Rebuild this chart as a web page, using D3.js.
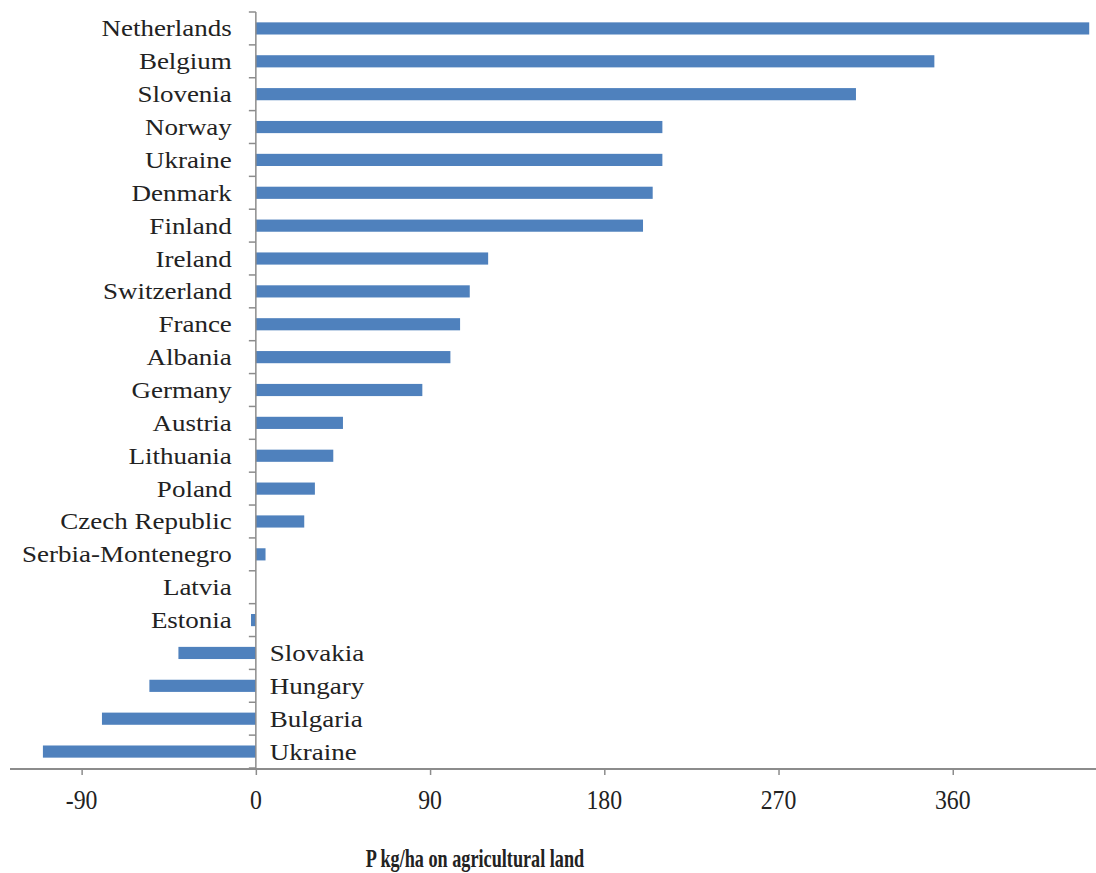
<!DOCTYPE html>
<html>
<head>
<meta charset="utf-8">
<script src="https://cdn.jsdelivr.net/npm/d3@7"></script>
<style>
  body { margin: 0; background: #fff; }
  svg { display: block; }
  text { font-family: "Liberation Serif", "Times New Roman", serif; fill: #222; }
</style>
</head>
<body>
<div id="chart"></div>
<script>
// data
let countries = ["Netherlands", "Belgium", "Slovenia", "Norway", "Ukraine", "Denmark",
  "Finland", "Ireland", "Switzerland", "France", "Albania", "Germany", "Austria",
  "Lithuania", "Poland", "Czech Republic", "Serbia-Montenegro", "Latvia", "Estonia",
  "Slovakia", "Hungary", "Bulgaria", "Ukraine"];
let values = [430.5, 350.5, 310, 210, 210, 205, 200, 120, 110.5, 105.5, 100.5, 86, 45,
  40, 30.5, 25, 5, 0, -2.5, -40, -55, -79.5, -110];
let xTicks = [-90, 0, 90, 180, 270, 360];
let xTitle = "P kg/ha on agricultural land";

let width = 1096;
let height = 873;

let svg = d3
  .select("#chart")
  .append("svg")
  .attr("width", width)
  .attr("height", height);

let xScale = d3.scaleLinear().domain([-127, 434]).range([10, 1096]);
let yScale = d3
  .scaleBand()
  .domain(d3.range(countries.length))
  .range([12, 768])
  .paddingInner(0.63)
  .paddingOuter(0.315);

let axisY = 769;
let x0 = xScale(0);

// bars
svg.selectAll("rect.bar")
  .data(values)
  .enter()
  .append("rect")
  .attr("class", "bar")
  .attr("x", d => Math.min(xScale(d), x0))
  .attr("y", (d, i) => yScale(i))
  .attr("width", d => Math.abs(xScale(d) - x0))
  .attr("height", yScale.bandwidth())
  .attr("fill", "#4f81bd");

// category axis (vertical line at zero, ticks on band edges)
svg.append("line")
  .attr("x1", x0).attr("x2", x0)
  .attr("y1", 12).attr("y2", axisY)
  .attr("stroke", "#8c8c8c")
  .attr("stroke-width", 1.5);

let step = yScale.step();
svg.selectAll("line.ytick")
  .data(d3.range(countries.length + 1))
  .enter()
  .append("line")
  .attr("class", "ytick")
  .attr("x1", x0 - 7).attr("x2", x0)
  .attr("y1", i => 12 + i * step)
  .attr("y2", i => 12 + i * step)
  .attr("stroke", "#8c8c8c")
  .attr("stroke-width", 1.5);

// category labels: negatives sit to the right of the axis
svg.selectAll("g.clabel")
  .data(countries)
  .enter()
  .append("g")
  .attr("class", "clabel")
  .attr("transform", (d, i) => {
    let lx = values[i] < -10 ? x0 + 14 : x0 - 24;
    return `translate(${lx},${yScale(i) + yScale.bandwidth() / 2 + 8}) scale(1.2,1)`;
  })
  .append("text")
  .attr("text-anchor", (d, i) => (values[i] < -10 ? "start" : "end"))
  .style("font-size", "22.5px")
  .text(d => d);

// value axis
let xAxis = d3.axisBottom(xScale).tickValues(xTicks).tickSize(6).tickFormat(d3.format("d"));
let gx = svg.append("g")
  .attr("transform", `translate(0,${axisY})`)
  .call(xAxis);
gx.select(".domain").remove();
gx.selectAll(".tick line").attr("stroke", "#8c8c8c").attr("stroke-width", 1.5);
gx.selectAll(".tick text").remove();

svg.append("line")
  .attr("x1", 10).attr("x2", 1096)
  .attr("y1", axisY).attr("y2", axisY)
  .attr("stroke", "#8c8c8c")
  .attr("stroke-width", 2);

svg.selectAll("g.xlabel")
  .data(xTicks)
  .enter()
  .append("g")
  .attr("class", "xlabel")
  .attr("transform", d => `translate(${xScale(d)},809) scale(0.88,1)`)
  .append("text")
  .attr("text-anchor", "middle")
  .style("font-size", "27px")
  .text(d => d);

// axis title
svg.append("g")
  .attr("transform", "translate(475,867) scale(0.7,1)")
  .append("text")
  .attr("text-anchor", "middle")
  .style("font-size", "26px")
  .style("font-weight", "bold")
  .text(xTitle);
</script>
</body>
</html>
